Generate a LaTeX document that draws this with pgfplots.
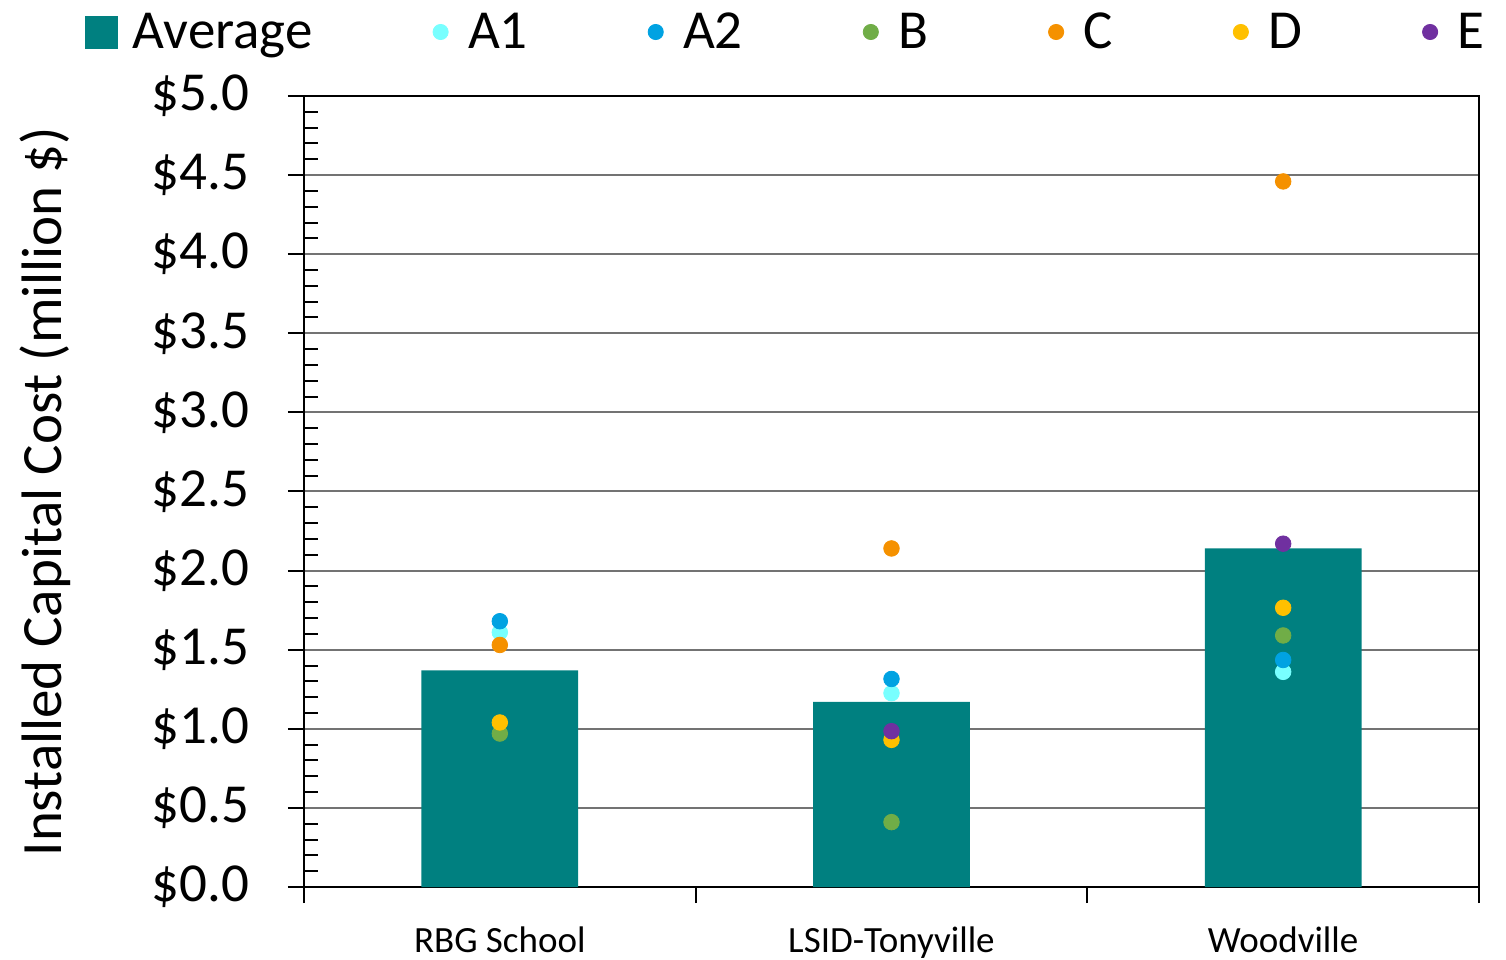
\documentclass[border=0pt]{standalone}
\usepackage{fontspec}
\setmainfont{Carlito}
\usepackage{pgfplots}
\pgfplotsset{compat=1.18}
\definecolor{avg}{RGB}{0,128,128}
\definecolor{ca1}{RGB}{120,255,255}
\definecolor{ca2}{RGB}{0,162,226}
\definecolor{cb}{RGB}{112,173,71}
\definecolor{cc}{RGB}{245,145,0}
\definecolor{cd}{RGB}{255,192,0}
\definecolor{ce}{RGB}{112,48,160}
\newcommand{\bigfont}{\fontsize{27.5bp}{33bp}\selectfont}
\newcommand{\labfont}{\fontsize{28.5bp}{34bp}\selectfont}
\newcommand{\catfont}{\fontsize{18.5bp}{22bp}\selectfont}
\pgfplotsset{
  dotlegend/.style={legend image code/.code={\path[draw=none,fill=none] (0bp,0bp) -- (10bp,0bp); \fill (3.8bp,0bp) circle (3.8bp);}},
}
\begin{document}
\begin{tikzpicture}
\begin{axis}[
  scale only axis,
  width=587.5bp, height=395.5bp,
  xmin=0.5, xmax=3.5, ymin=0, ymax=5,
  axis line style={black, line width=1.2bp},
  ytick={0,0.5,1,1.5,2,2.5,3,3.5,4,4.5,5},
  yticklabels={\$0.0,\$0.5,\$1.0,\$1.5,\$2.0,\$2.5,\$3.0,\$3.5,\$4.0,\$4.5,\$5.0},
  yticklabel style={font=\bigfont, xshift=-16bp},
  minor y tick num=4,
  ytick pos=left, xtick pos=bottom,
  tick align=outside,
  major tick length=8bp,
  minor tick length=7bp,
  minor y tick style={xshift=7bp},
  tick style={black, line width=1bp},
  ymajorgrids,
  major grid style={draw=black!55, line width=1bp},
  xtick={0.5,1.5,2.5,3.5},
  xticklabels={},
  extra x ticks={1,2,3},
  extra x tick labels={RBG School, LSID-Tonyville, Woodville},
  extra x tick style={major tick length=0pt, grid=none},
  xticklabel style={font=\catfont, yshift=-16.5bp},
  ylabel={Installed Capital Cost (million \$)},
  ylabel style={font=\labfont, at={(axis description cs:-0.2204,0.5)}, anchor=center},
  legend columns=7,
  legend style={at={(axis description cs:-0.1864,1.0809)}, anchor=west, draw=none, fill=none,
    font=\bigfont, inner sep=0pt, outer sep=0pt,
    nodes={inner xsep=7.5bp, inner ysep=2bp},
    /tikz/every even column/.append style={column sep=52.5bp}},
]
\coordinate (bl) at (rel axis cs:0,0);
\coordinate (tr) at (rel axis cs:1,1);
\addplot[ybar, bar width=0.4, fill=avg, draw=none,
  legend image code/.code={\fill[avg] (0bp,-8.25bp) rectangle (16.5bp,8.25bp);}]
  coordinates {(1,1.37) (2,1.17) (3,2.14)};
\addlegendentry{Average}
\addplot[only marks, mark=*, mark size=3.9bp, color=ca1, dotlegend]
  coordinates {(1,1.61) (2,1.225) (3,1.36)};
\addlegendentry{A1}
\addplot[only marks, mark=*, mark size=3.9bp, color=ca2, dotlegend]
  coordinates {(1,1.68) (2,1.315) (3,1.435)};
\addlegendentry{A2}
\addplot[only marks, mark=*, mark size=3.9bp, color=cb, dotlegend]
  coordinates {(1,0.97) (2,0.41) (3,1.59)};
\addlegendentry{B}
\addplot[only marks, mark=*, mark size=3.9bp, color=cc, dotlegend]
  coordinates {(1,1.53) (2,2.14) (3,4.46)};
\addlegendentry{C}
\addplot[only marks, mark=*, mark size=3.9bp, color=cd, dotlegend]
  coordinates {(1,1.04) (2,0.93) (3,1.765)};
\addlegendentry{D}
\addplot[only marks, mark=*, mark size=3.9bp, color=ce, dotlegend]
  coordinates {(2,0.985) (3,2.17)};
\addlegendentry{E}
\end{axis}
\pgfresetboundingbox
\path[use as bounding box] ([xshift=-152bp,yshift=-36.5bp]bl) rectangle ([xshift=13.5bp,yshift=48bp]tr);
\end{tikzpicture}
\end{document}
